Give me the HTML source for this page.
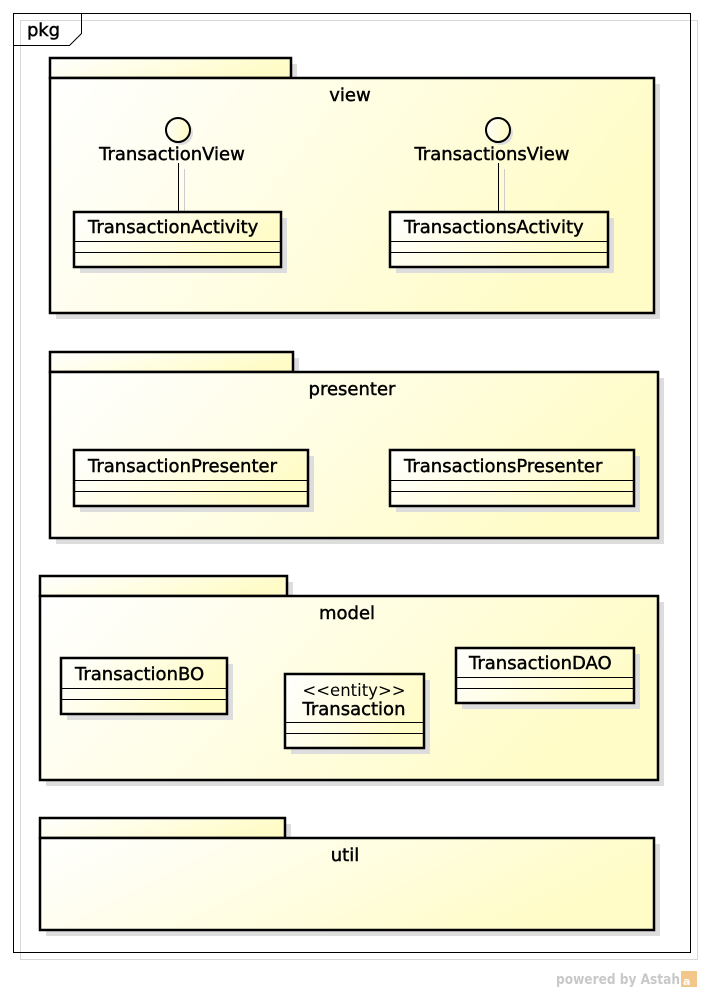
<!DOCTYPE html>
<html><head><meta charset="utf-8"><style>
html,body{margin:0;padding:0;background:#fff;}
svg{display:block;}
text{font-family:"DejaVu Sans","Liberation Sans",sans-serif;font-size:18px;fill:#000;stroke:#000;stroke-width:0.45px;}
text.l{stroke:none;}
</style></head><body>
<svg width="701" height="992" viewBox="0 0 701 992" xmlns="http://www.w3.org/2000/svg">
<defs>
<linearGradient id="g" x1="0" y1="0" x2="1" y2="0.3">
<stop offset="0" stop-color="#ffffff"/><stop offset="1" stop-color="#fffcc8"/>
</linearGradient>
</defs>
<rect x="20.5" y="20.5" width="677" height="939" fill="none" stroke="#d8d8d8" stroke-width="1"/>
<rect x="13.5" y="13.5" width="677" height="939" fill="none" stroke="#000" stroke-width="1"/>
<path d="M13.5 45.5 H69.5 L81.5 33.5 V13.5" fill="none" stroke="#000" stroke-width="1"/>
<text x="27" y="36" textLength="33">pkg</text>

<!-- view -->
<rect x="56" y="64" width="241" height="20" fill="#ddd"/>
<rect x="56" y="84" width="604" height="235" fill="#ddd"/>
<rect x="50" y="58" width="241" height="20" fill="url(#g)" stroke="#000" stroke-width="2.5"/>
<rect x="50" y="78" width="604" height="235" fill="url(#g)" stroke="#000" stroke-width="2.5"/>
<text x="350" y="101" text-anchor="middle">view</text>

<circle cx="181" cy="133" r="12" fill="#ddd"/>
<circle cx="178" cy="130" r="12" fill="url(#g)" stroke="#000" stroke-width="2"/>
<text x="172" y="160" text-anchor="middle">TransactionView</text>
<line x1="178.5" y1="163" x2="178.5" y2="212" stroke="#000" stroke-width="1"/>
<line x1="184.5" y1="169" x2="184.5" y2="212" stroke="#ccc" stroke-width="1"/>
<rect x="80" y="218" width="207" height="55" fill="#ddd"/>
<rect x="74" y="212" width="207" height="55" fill="url(#g)" stroke="#000" stroke-width="2.5"/>
<line x1="74" y1="241.5" x2="281" y2="241.5" stroke="#000"/>
<line x1="74" y1="252.5" x2="281" y2="252.5" stroke="#000"/>
<text x="88" y="233">TransactionActivity</text>

<circle cx="501" cy="133" r="12" fill="#ddd"/>
<circle cx="498" cy="130" r="12" fill="url(#g)" stroke="#000" stroke-width="2"/>
<text x="492" y="160" text-anchor="middle">TransactionsView</text>
<line x1="498.5" y1="163" x2="498.5" y2="212" stroke="#000" stroke-width="1"/>
<line x1="504.5" y1="169" x2="504.5" y2="212" stroke="#ccc" stroke-width="1"/>
<rect x="396" y="218" width="218" height="55" fill="#ddd"/>
<rect x="390" y="212" width="218" height="55" fill="url(#g)" stroke="#000" stroke-width="2.5"/>
<line x1="390" y1="241.5" x2="608" y2="241.5" stroke="#000"/>
<line x1="390" y1="252.5" x2="608" y2="252.5" stroke="#000"/>
<text x="404" y="233">TransactionsActivity</text>

<!-- presenter -->
<rect x="56" y="358" width="243" height="20" fill="#ddd"/>
<rect x="56" y="378" width="608" height="166" fill="#ddd"/>
<rect x="50" y="352" width="243" height="20" fill="url(#g)" stroke="#000" stroke-width="2.5"/>
<rect x="50" y="372" width="608" height="166" fill="url(#g)" stroke="#000" stroke-width="2.5"/>
<text x="352" y="395" text-anchor="middle">presenter</text>

<rect x="80" y="456" width="234" height="56" fill="#ddd"/>
<rect x="74" y="450" width="234" height="56" fill="url(#g)" stroke="#000" stroke-width="2.5"/>
<line x1="74" y1="480.5" x2="308" y2="480.5" stroke="#000"/>
<line x1="74" y1="491.5" x2="308" y2="491.5" stroke="#000"/>
<text x="88" y="472">TransactionPresenter</text>

<rect x="396" y="456" width="244" height="56" fill="#ddd"/>
<rect x="390" y="450" width="244" height="56" fill="url(#g)" stroke="#000" stroke-width="2.5"/>
<line x1="390" y1="480.5" x2="634" y2="480.5" stroke="#000"/>
<line x1="390" y1="491.5" x2="634" y2="491.5" stroke="#000"/>
<text x="404" y="472">TransactionsPresenter</text>

<!-- model -->
<rect x="46" y="582" width="247" height="20" fill="#ddd"/>
<rect x="46" y="602" width="618" height="184" fill="#ddd"/>
<rect x="40" y="576" width="247" height="20" fill="url(#g)" stroke="#000" stroke-width="2.5"/>
<rect x="40" y="596" width="618" height="184" fill="url(#g)" stroke="#000" stroke-width="2.5"/>
<text x="347" y="619" text-anchor="middle">model</text>

<rect x="67" y="664" width="166" height="56" fill="#ddd"/>
<rect x="61" y="658" width="166" height="56" fill="url(#g)" stroke="#000" stroke-width="2.5"/>
<line x1="61" y1="688.5" x2="227" y2="688.5" stroke="#000"/>
<line x1="61" y1="699.5" x2="227" y2="699.5" stroke="#000"/>
<text x="75" y="680">TransactionBO</text>

<rect x="291" y="680" width="139" height="74" fill="#ddd"/>
<rect x="285" y="674" width="139" height="74" fill="url(#g)" stroke="#000" stroke-width="2.5"/>
<line x1="285" y1="722.5" x2="424" y2="722.5" stroke="#000"/>
<line x1="285" y1="733.5" x2="424" y2="733.5" stroke="#000"/>
<text class="l" x="354" y="696" text-anchor="middle" style="font-size:16.5px">&lt;&lt;entity&gt;&gt;</text>
<text x="354" y="715" text-anchor="middle">Transaction</text>

<rect x="462" y="654" width="178" height="55" fill="#ddd"/>
<rect x="456" y="648" width="178" height="55" fill="url(#g)" stroke="#000" stroke-width="2.5"/>
<line x1="456" y1="677.5" x2="634" y2="677.5" stroke="#000"/>
<line x1="456" y1="688.5" x2="634" y2="688.5" stroke="#000"/>
<text x="469" y="669">TransactionDAO</text>

<!-- util -->
<rect x="46" y="824" width="245" height="20" fill="#ddd"/>
<rect x="46" y="844" width="614" height="92" fill="#ddd"/>
<rect x="40" y="818" width="245" height="20" fill="url(#g)" stroke="#000" stroke-width="2.5"/>
<rect x="40" y="838" width="614" height="92" fill="url(#g)" stroke="#000" stroke-width="2.5"/>
<text x="345" y="861" text-anchor="middle">util</text>

<text class="l" x="556" y="984" textLength="124" lengthAdjust="spacingAndGlyphs" style="font-size:14px;font-weight:bold;fill:#c8c8c8">powered by Astah</text>
<rect x="681" y="971" width="16" height="16" fill="#f3c68a"/>
<text class="l" x="683" y="985" style="font-size:11px;font-weight:bold;fill:#fff">a</text>
</svg>
</body></html>
